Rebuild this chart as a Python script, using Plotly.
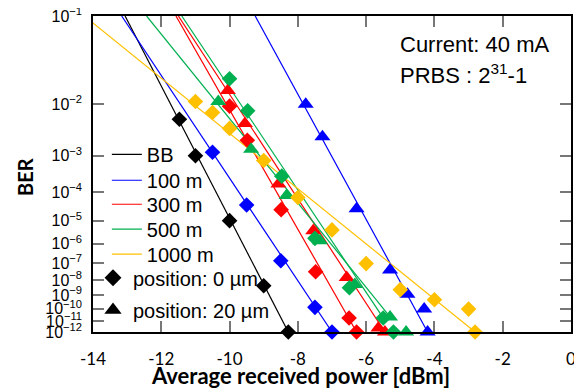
import numpy as np
import plotly.graph_objects as go

# ---------------- data (power in dBm, BER) ----------------
bb_p = [-11.47, -11.0, -10.0, -9.0, -8.28]
bb_ber = [5.6e-3, 1.0e-3, 1.0e-5, 4.6e-9, 1e-12]

m100_d_p = [-10.5, -9.5, -8.5, -7.5, -7.0]
m100_d_ber = [1.2e-3, 3.8e-5, 1.4e-7, 1.3e-10, 1e-12]
m100_t_p = [-7.77, -7.28, -6.28, -5.30, -4.79, -4.30, -4.20]
m100_t_ber = [1.0e-2, 2.6e-3, 2.8e-5, 4.2e-8, 1.2e-9, 9.5e-11, 1e-12]

m300_d_p = [-10.0, -9.48, -8.49, -7.48, -6.50, -6.28]
m300_d_ber = [9.3e-3, 2.2e-3, 2.6e-5, 3.4e-8, 1.8e-11, 1e-12]
m300_t_p = [-10.05, -9.55, -8.57, -7.55, -6.57, -5.64, -5.45]
m300_t_ber = [1.6e-2, 4.7e-3, 1.8e-4, 3.9e-6, 1.5e-8, 2.4e-12, 1e-12]

m500_d_p = [-10.0, -9.47, -8.47, -7.50, -6.49, -5.50, -5.20]
m500_d_ber = [2.3e-2, 7.8e-3, 3.0e-4, 1.8e-6, 3.4e-9, 1.8e-11, 1e-12]
m500_t_p = [-10.33, -9.37, -8.33, -7.35, -6.33, -5.30, -4.83]
m500_t_ber = [1.1e-2, 1.4e-3, 7.9e-5, 1.4e-6, 5.4e-9, 2.2e-11, 1e-12]

m1000_d_p = [-11.0, -10.5, -10.0, -9.0, -8.0, -7.0, -6.0, -5.0, -4.0, -3.0, -2.81]
m1000_d_ber = [1.1e-2, 7.3e-3, 3.8e-3, 7.7e-4, 6.8e-5, 4.2e-6, 9.8e-8, 2.5e-9, 4.9e-10, 9.5e-11, 1e-12]

# fitted lines: [power at BER=1e-1, power at end], [1e-1, BER at end]
fit_bb_p, fit_bb_ber = [-13.06, -8.28], [1e-1, 1e-12]
fit_100d_p, fit_100d_ber = [-13.16, -7.0], [1e-1, 1e-12]
fit_100t_p, fit_100t_ber = [-9.25, -4.2], [1e-1, 1e-12]
fit_300d_p, fit_300d_ber = [-11.57, -6.28], [1e-1, 1e-12]
fit_300t_p, fit_300t_ber = [-11.50, -5.45], [1e-1, 1e-12]
fit_500d_p, fit_500d_ber = [-11.40, -5.50], [1e-1, 1.8e-11]
fit_500t_p, fit_500t_ber = [-12.43, -5.30], [1e-1, 2.2e-11]
fit_1000d_p, fit_1000d_ber = [-14.25, -2.81], [1e-1, 1e-12]

x_ticks = [-14, -12, -10, -8, -6, -4, -2, 0]
ber_exponents = list(range(1, 13))

BLACK, BLUE, RED, GREEN, ORANGE = "#000000", "#0000FF", "#FF0000", "#00B050", "#FFC000"


def ty(ber):
    """BER axis transform: log10(-log10(BER))."""
    return np.log10(-np.log10(np.asarray(ber, dtype=float)))


fig = go.Figure()

# (x, y, colour, legend name, legend id)
lines = [
    (fit_bb_p, fit_bb_ber, BLACK, "BB", "legend"),
    (fit_100d_p, fit_100d_ber, BLUE, "100 m", "legend2"),
    (fit_100t_p, fit_100t_ber, BLUE, None, None),
    (fit_300d_p, fit_300d_ber, RED, "300 m", "legend3"),
    (fit_300t_p, fit_300t_ber, RED, None, None),
    (fit_500d_p, fit_500d_ber, GREEN, "500 m", "legend4"),
    (fit_500t_p, fit_500t_ber, GREEN, None, None),
    (fit_1000d_p, fit_1000d_ber, ORANGE, "1000 m", "legend5"),
]
for p, b, c, name, leg in lines:
    fig.add_trace(go.Scatter(
        x=p, y=ty(b), mode="lines", line=dict(color=c, width=1.2),
        name=name if name else "", showlegend=bool(name),
        legend=leg if leg else "legend", hoverinfo="skip"))

D_SIZE, T_SIZE = 12, 14
markers = [
    (bb_p, bb_ber, BLACK, "diamond", D_SIZE),
    (m100_d_p, m100_d_ber, BLUE, "diamond", D_SIZE),
    (m100_t_p, m100_t_ber, BLUE, "triangle-up", T_SIZE),
    (m300_d_p, m300_d_ber, RED, "diamond", D_SIZE),
    (m300_t_p, m300_t_ber, RED, "triangle-up", T_SIZE),
    (m500_d_p, m500_d_ber, GREEN, "diamond", D_SIZE),
    (m500_t_p, m500_t_ber, GREEN, "triangle-up", T_SIZE),
    (m1000_d_p, m1000_d_ber, ORANGE, "diamond", D_SIZE),
]
for p, b, c, sym, s in markers:
    fig.add_trace(go.Scatter(
        x=p, y=ty(b), mode="markers", cliponaxis=False,
        marker=dict(symbol=sym, size=s, color=c, line=dict(width=0)),
        showlegend=False))

# legend proxies for marker shapes
fig.add_trace(go.Scatter(x=[None], y=[None], mode="markers", name="position: 0 µm",
                         marker=dict(symbol="diamond", size=13, color=BLACK),
                         legend="legend6"))
fig.add_trace(go.Scatter(x=[None], y=[None], mode="markers", name="position: 20 µm",
                         marker=dict(symbol="triangle-up", size=15, color=BLACK),
                         legend="legend7"))

tick_font = dict(family="Lato", size=17, color="black")
fig.update_xaxes(
    range=[x_ticks[0], x_ticks[-1]], tickvals=x_ticks, ticktext=[str(v) for v in x_ticks],
    ticks="inside", ticklen=11, tickwidth=1.5, tickcolor="#777777",
    showline=True, linecolor="black", linewidth=1.5, mirror="ticks",
    showgrid=False, zeroline=False, tickfont=tick_font, ticklabelstandoff=11,
    ticklabeloverflow="allow", automargin=False)
fig.update_yaxes(
    range=[float(ty(10.0 ** -ber_exponents[-1])), 0.0],
    tickvals=[float(np.log10(n)) for n in ber_exponents],
    ticktext=["10<sup>−%d</sup>" % n for n in ber_exponents],
    ticks="inside", ticklen=11, tickwidth=1.5, tickcolor="#777777",
    showline=True, linecolor="black", linewidth=1.5, mirror="ticks",
    showgrid=False, zeroline=False,
    tickfont=dict(family="Liberation Sans", size=16, color="black"), ticklabelstandoff=6,
    ticklabeloverflow="allow", automargin=False)

fig.add_annotation(text="Average received power [dBm]", xref="paper", yref="paper",
                   x=0.435, y=-0.137, showarrow=False, xanchor="center", yanchor="middle",
                   font=dict(family="Lato", size=22, color="black", weight="bold"))
fig.add_annotation(text="BER", xref="paper", yref="paper", x=-0.142, y=0.491,
                   showarrow=False, textangle=-90, xanchor="center", yanchor="middle",
                   font=dict(family="Lato", size=20, color="black", weight="bold"))
fig.add_annotation(text="Current: 40 mA", xref="paper", yref="paper", x=0.638, y=0.91,
                   showarrow=False, xanchor="left", yanchor="middle",
                   font=dict(family="Liberation Sans", size=22, color="black"))
fig.add_annotation(text="PRBS : 2<sup>31</sup>-1", xref="paper", yref="paper", x=0.638, y=0.818,
                   showarrow=False, xanchor="left", yanchor="middle",
                   font=dict(family="Liberation Sans", size=22, color="black"))

leg_font = dict(family="Liberation Sans", size=20, color="black")
leg_common = dict(xanchor="left", yanchor="top", bgcolor="rgba(0,0,0,0)", borderwidth=0,
                  font=leg_font)
line_leg_x = 0.029
marker_leg_x = 0.0

# page body has an 8px margin; the figure is sized so the plot area lands at
# x 93..571, y 16..332 of the window
fig.update_layout(
    width=574, height=380,
    margin=dict(l=85, r=11, t=8, b=56, autoexpand=False),
    paper_bgcolor="white", plot_bgcolor="white",
    legend=dict(x=line_leg_x, y=0.624, **leg_common),
    legend2=dict(x=line_leg_x, y=0.542, **leg_common),
    legend3=dict(x=line_leg_x, y=0.466, **leg_common),
    legend4=dict(x=line_leg_x, y=0.387, **leg_common),
    legend5=dict(x=line_leg_x, y=0.308, **leg_common),
    legend6=dict(x=marker_leg_x, y=0.2335, **leg_common),
    legend7=dict(x=marker_leg_x, y=0.131, **leg_common),
)

fig.write_html("out.html")
